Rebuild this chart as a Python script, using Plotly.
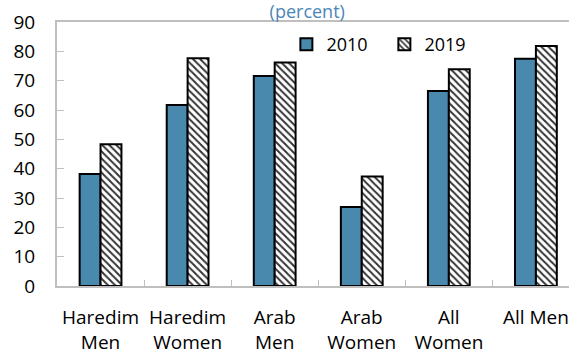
import plotly.graph_objects as go

# Employment rates by population group, 2010 vs 2019
categories = ["Haredim<br>Men", "Haredim<br>Women", "Arab<br>Men",
              "Arab<br>Women", "All<br>Women", "All Men"]
values_2010 = [38.2, 61.7, 71.6, 26.9, 66.5, 77.5]
values_2019 = [48.3, 77.6, 76.2, 37.3, 73.9, 81.8]
y_ticks = [0, 10, 20, 30, 40, 50, 60, 70, 80, 90]

BLUE = "#4A89AE"
AXIS_GRAY = "#BFBFBF"
FONT = "Open Sans"

fig = go.Figure()
fig.add_trace(go.Bar(
    name="2010", x=categories, y=values_2010,
    marker=dict(color=BLUE, line=dict(color="black", width=2)),
))
fig.add_trace(go.Bar(
    name="2019", x=categories, y=values_2019,
    marker=dict(color="white", line=dict(color="black", width=2),
                pattern=dict(shape="\\", fgcolor="#333333", bgcolor="white",
                             size=5, solidity=0.4, fillmode="replace")),
))

fig.update_layout(
    width=569, height=356,
    margin=dict(l=57, r=0, t=22, b=70, autoexpand=False),
    paper_bgcolor="white", plot_bgcolor="white",
    font=dict(family=FONT, size=18, color="black"),
    barmode="group", bargap=0.52, bargroupgap=0,
    title=dict(text="(percent)", font=dict(family=FONT, size=18, color="#4A86B8"),
               x=0.54, xanchor="center", y=0.986, yanchor="top",
               pad=dict(t=0, b=0)),
    legend=dict(orientation="h", x=0.448, y=0.985, xanchor="left", yanchor="top",
                bgcolor="rgba(0,0,0,0)", font=dict(size=18),
                entrywidth=53, itemwidth=30, tracegroupgap=0),
    showlegend=True,
)

fig.update_xaxes(
    range=[-0.5, 5.38], showline=True, linecolor=AXIS_GRAY, linewidth=2,
    mirror=True, ticks="inside", tickson="boundaries", ticklen=6,
    tickcolor=AXIS_GRAY, tickwidth=1, showgrid=False,
    tickfont=dict(size=19), ticklabelstandoff=13,
)
fig.update_yaxes(
    range=[0, 90], tickvals=y_ticks, showline=True, linecolor=AXIS_GRAY,
    linewidth=2, ticks="inside", ticklen=7, tickcolor=AXIS_GRAY, tickwidth=1,
    showgrid=False, zeroline=False, tickfont=dict(size=19),
    ticklabelstandoff=16,
)

fig.write_html("out.html")
